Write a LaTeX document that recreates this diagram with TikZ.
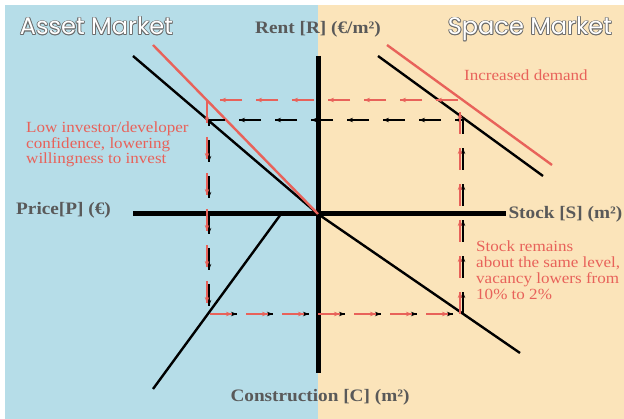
\documentclass[tikz,border=0pt]{standalone}
\usepackage{fontspec}
\setmainfont{Liberation Serif}[FakeStretch=1.1]
\newfontfamily\titlefont{Poppins}
\usetikzlibrary{arrows.meta,decorations.markings}
\definecolor{bgblue}{HTML}{B6DDE8}
\definecolor{bgbeige}{HTML}{FBE4BA}
\definecolor{curvered}{HTML}{E8625A}
\definecolor{labelgray}{HTML}{595959}
\definecolor{outlinegray}{HTML}{6A6A6A}
\newcommand\outlinedtext[1]{%
  \leavevmode\rlap{\color{outlinegray}%
  \rlap{\kern-0.85pt#1}\rlap{\kern0.85pt#1}\rlap{\raisebox{0.85pt}{#1}}\rlap{\raisebox{-0.85pt}{#1}}%
  \rlap{\kern-0.6pt\raisebox{0.6pt}{#1}}\rlap{\kern0.6pt\raisebox{0.6pt}{#1}}%
  \rlap{\kern-0.6pt\raisebox{-0.6pt}{#1}}\rlap{\kern0.6pt\raisebox{-0.6pt}{#1}}}%
  {\color{white}#1}}
\tikzset{
  axisline/.style={line width=5pt},
  curveline/.style={line width=2.4pt},
  redcurve/.style={curveline, draw=curvered},
  flowline/.style={line width=1.2pt, dash pattern=on 22pt off 14pt,
    postaction={decorate},
    decoration={markings, mark=between positions 22pt and -1pt step 36pt with {\arrow{Stealth[length=6pt,width=4.5pt]}}}},
  blackflow/.style={flowline, color=black},
  redflow/.style={flowline, color=curvered},
  titletext/.style={font=\titlefont\fontsize{24}{28}\selectfont, inner sep=0pt, anchor=base},
  axislabel/.style={font=\bfseries\fontsize{17.5}{20}\selectfont, text=labelgray, inner sep=0pt},
  note/.style={font=\fontsize{15.5}{15.7}\selectfont, text=curvered, align=left, inner sep=0pt, anchor=north west}
}
\begin{document}
\begin{tikzpicture}[x=1pt,y=-1pt]
\useasboundingbox (0,0) rectangle (624,419);
\fill[white] (0,0) rectangle (624,419);
\fill[bgblue] (5,5) rectangle (318,419);
\fill[bgbeige] (318,5) rectangle (624,419);

% titles
\node[titletext] (asset) at (96.5,35) {\outlinedtext{Asset Market}};
\node[titletext] (space) at (530,35) {\outlinedtext{Space Market}};

% axis labels
\node[axislabel, anchor=base] (rent) at (318,34) {Rent [R] (€/m²)};
\node[axislabel, anchor=base] (price) at (63.5,215) {Price[P] (€)};
\node[axislabel, anchor=base east] (stock) at (622.5,219) {Stock [S] (m²)};
\node[axislabel, anchor=base] (constr) at (320,402) {Construction [C] (m²)};

% coordinates
\coordinate (O) at (318,214);
\coordinate (Vtop) at (318.5,56);
\coordinate (Vbot) at (318.5,373);
\coordinate (Hl) at (133,214);
\coordinate (Hr) at (506,214);
\coordinate (AdB) at (133,56);
\coordinate (AdR) at (153,45);
\coordinate (SdB1) at (378,56);
\coordinate (SdB2) at (543,176);
\coordinate (SdR1) at (387,45);
\coordinate (SdR2) at (552,165);
\coordinate (Cst) at (153,389);
\coordinate (Cen) at (281,214);
\coordinate (Sst) at (520,353);

% axes
\draw[axisline] (Vtop) -- (Vbot);
\draw[axisline] (Hl) -- (Hr);

% curves
\draw[curveline] (AdB) -- (O);
\draw[curveline] (O) -- (Sst);
\draw[curveline] (Cst) -- (Cen);
\draw[curveline] (SdB1) -- (SdB2);
\draw[redcurve] (AdR) -- (O);
\draw[redcurve] (SdR1) -- (SdR2);

% flows
\coordinate (B1) at (463,314);
\coordinate (B2) at (463,120);
\coordinate (B3) at (209,120);
\coordinate (B4) at (209,314);
\coordinate (R1) at (460,314);
\coordinate (R2) at (460,100);
\coordinate (R3) at (207,100);
\coordinate (R4) at (207,314);
\draw[blackflow] (B1) -- (B2) -- (B3) -- (B4) -- cycle;
\draw[redflow] (R1) -- (R2) -- (R3) -- (R4) -- cycle;

% notes
\node[note] (demand) at (464,69.5) {Increased demand};
\node[note] (confidence) at (26,121.5) {Low investor/developer\\confidence, lowering\\willingness to invest};
\node[note] (vacancy) at (476,241) {Stock remains\\about the same level,\\vacancy lowers from\\10\% to 2\%};
\end{tikzpicture}
\end{document}
